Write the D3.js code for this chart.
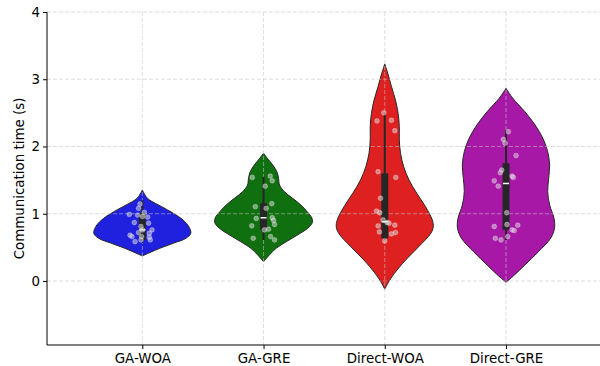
<!DOCTYPE html>
<html>
<head>
<meta charset="utf-8">
<script src="https://cdn.jsdelivr.net/npm/d3@7"></script>
<style>
  html, body { margin: 0; padding: 0; background: #fff; }
  svg { display: block; }
  text { font-family: "DejaVu Sans", sans-serif; }
</style>
</head>
<body>
<svg id="chart" width="600" height="366"></svg>
<script>
// ---------- data ----------
const categories = ["GA-WOA", "GA-GRE", "Direct-WOA", "Direct-GRE"];
const colors = ["#2020df", "#107010", "#df2020", "#a718a7"];
const yTicks = [0, 1, 2, 3, 4];
const yLabel = "Communication time (s)";

// violin profiles: [value, relative density]
const profileGAWOA = [[1.353,0],[1.253,0.08],[1.204,0.15],[1.105,0.40],[1.007,0.64],[0.907,0.84],[0.807,0.96],[0.709,1.0],[0.635,0.90],[0.561,0.64],[0.486,0.36],[0.421,0.15],[0.372,0]];
const profileGAGRE = [[1.899,0],[1.825,0.077],[1.725,0.19],[1.625,0.275],[1.527,0.31],[1.428,0.33],[1.328,0.43],[1.23,0.60],[1.13,0.77],[1.03,0.90],[0.932,1.0],[0.858,1.0],[0.784,0.91],[0.684,0.70],[0.584,0.47],[0.486,0.26],[0.387,0.12],[0.287,0]];
const profileDirectWOA = [[3.227,0],[3.088,0.062],[2.889,0.139],[2.691,0.22],[2.494,0.275],[2.294,0.30],[2.097,0.30],[1.899,0.325],[1.70,0.39],[1.502,0.50],[1.304,0.66],[1.105,0.84],[0.907,0.98],[0.807,1.0],[0.709,0.95],[0.51,0.70],[0.312,0.43],[0.114,0.20],[-0.034,0.062],[-0.123,0]];
const profileDirectGRE = [[2.865,0],[2.717,0.14],[2.517,0.39],[2.32,0.60],[2.122,0.76],[1.923,0.86],[1.725,0.90],[1.527,0.88],[1.328,0.86],[1.13,0.90],[0.932,0.99],[0.784,1.0],[0.635,0.92],[0.436,0.67],[0.238,0.39],[0.089,0.175],[-0.019,0]];
const profiles = [profileGAWOA, profileGAGRE, profileDirectWOA, profileDirectGRE];

// box stats
const whiskerLow  = [0.565, 0.61, 0.61, 0.61];
const q1          = [0.61, 0.76, 0.635, 0.76];
const medians     = [0.76, 0.94, 0.88, 1.45];
const q3          = [1.01, 1.155, 1.60, 1.75];
const whiskerHigh = [1.20, 1.55, 2.49, 2.245];

// strip points: [jitter (category units), value]
const pointsGAWOA = [[-0.019,1.145],[-0.031,1.08],[-0.107,0.99],[-0.039,0.98],[0.017,1.02],[0.002,0.96],[0.044,0.95],[-0.066,0.87],[0.052,0.86],[-0.011,0.81],[0.002,0.76],[0.08,0.76],[-0.031,0.72],[0.058,0.71],[-0.101,0.68],[-0.085,0.66],[-0.006,0.66],[0.058,0.65],[0.066,0.61],[-0.011,0.61],[-0.06,0.585]];
const pointsGAGRE = [[-0.093,1.54],[0.055,1.56],[0.072,1.49],[0.014,1.41],[-0.068,1.105],[0.068,1.15],[0.022,1.08],[-0.06,0.93],[0.072,0.94],[0.083,0.90],[0.091,0.84],[-0.097,0.82],[0.008,0.76],[0.041,0.77],[-0.085,0.635],[0.058,0.66],[0.091,0.61]];
const pointsDirectWOA = [[-0.008,2.50],[-0.064,2.38],[0.055,2.39],[0.083,2.235],[-0.055,1.625],[0.091,1.54],[-0.035,1.23],[-0.068,1.04],[-0.041,1.015],[-0.014,0.91],[0.019,0.87],[0.035,0.86],[-0.055,0.82],[0.083,0.83],[-0.044,0.73],[0.055,0.70],[0.088,0.72],[0,0.595]];
const pointsDirectGRE = [[0.019,2.22],[-0.022,2.105],[-0.008,2.05],[0.083,1.865],[-0.035,1.65],[-0.047,1.61],[0.05,1.56],[0.06,1.54],[-0.097,1.49],[-0.064,1.41],[0.006,1.015],[0.008,0.84],[0.097,0.83],[-0.097,0.81],[0.05,0.76],[0.068,0.75],[-0.088,0.635],[-0.041,0.61],[0.014,0.66]];
const points = [pointsGAWOA, pointsGAGRE, pointsDirectWOA, pointsDirectGRE];

// ---------- layout ----------
const plotLeft = 47, plotRight = 600, plotTop = 12, plotBottom = 345;
const svg = d3.select("#chart");

const x = d3.scalePoint().domain(categories).range([142.3, 506]);
const step = x.step();
const y = d3.scaleLinear().domain([-0.952, 4]).range([plotBottom, plotTop]);
const halfW = 0.4 * step;

// ---------- violins ----------
const gV = svg.append("g");
categories.forEach((c, i) => {
  const cx = x(c);
  const area = d3.area()
    .y(d => y(d[0]))
    .x0(d => cx - halfW * d[1])
    .x1(d => cx + halfW * d[1])
    .curve(d3.curveCatmullRom.alpha(0.5));
  gV.append("path")
    .attr("d", area(profiles[i]))
    .attr("fill", colors[i])
    .attr("stroke", "#262626")
    .attr("stroke-width", 1);
});

// ---------- grid (on top of violins) ----------
const gGrid = svg.append("g")
  .attr("stroke", "#c4c4c4").attr("stroke-opacity", 0.7)
  .attr("stroke-width", 0.8).attr("stroke-dasharray", "4,2");
yTicks.forEach(t => {
  gGrid.append("line").attr("x1", plotLeft).attr("x2", plotRight)
    .attr("y1", y(t)).attr("y2", y(t));
});
categories.forEach(c => {
  gGrid.append("line").attr("x1", x(c)).attr("x2", x(c))
    .attr("y1", plotTop).attr("y2", plotBottom);
});

// ---------- inner box ----------
const gB = svg.append("g");
categories.forEach((c, i) => {
  const cx = x(c);
  gB.append("line").attr("x1", cx).attr("x2", cx)
    .attr("y1", y(whiskerLow[i])).attr("y2", y(whiskerHigh[i]))
    .attr("stroke", "#262626").attr("stroke-width", 2);
  gB.append("line").attr("x1", cx).attr("x2", cx)
    .attr("y1", y(q1[i])).attr("y2", y(q3[i]))
    .attr("stroke", "#262626").attr("stroke-width", 7);
  gB.append("line").attr("x1", cx - 3).attr("x2", cx + 3)
    .attr("y1", y(medians[i])).attr("y2", y(medians[i]))
    .attr("stroke", "#ffffff").attr("stroke-width", 1.5);
});

// ---------- strip points ----------
const gP = svg.append("g");
categories.forEach((c, i) => {
  gP.selectAll(null).data(points[i]).enter().append("circle")
    .attr("cx", d => x(c) + d[0] * step)
    .attr("cy", d => y(d[1]))
    .attr("r", 2.4)
    .attr("fill", "#d8d8d8")
    .attr("fill-opacity", 0.55)
    .attr("stroke", "#ffffff")
    .attr("stroke-opacity", 0.5)
    .attr("stroke-width", 0.6);
});

// ---------- axes ----------
const yAxis = d3.axisLeft(y).tickValues(yTicks).tickFormat(d3.format("d")).tickSize(4).tickPadding(3);
const gy = svg.append("g").attr("transform", `translate(${plotLeft},0)`).call(yAxis);
gy.select(".domain").remove();
gy.append("line").attr("x1", 0).attr("x2", 0).attr("y1", plotTop).attr("y2", plotBottom)
  .attr("stroke", "#000").attr("stroke-width", 1);
gy.selectAll(".tick line").attr("stroke", "#000");
gy.selectAll(".tick text").attr("font-size", 13.4).attr("fill", "#000")
  .attr("font-family", "DejaVu Sans");

const xAxis = d3.axisBottom(x).tickSize(4).tickPadding(4);
const gx = svg.append("g").attr("transform", `translate(0,${plotBottom})`).call(xAxis);
gx.select(".domain").remove();
gx.append("line").attr("x1", plotLeft).attr("x2", plotRight).attr("y1", 0).attr("y2", 0)
  .attr("stroke", "#000").attr("stroke-width", 1);
gx.selectAll(".tick line").attr("stroke", "#000");
gx.selectAll(".tick text").attr("font-size", 13.4).attr("fill", "#000")
  .attr("font-family", "DejaVu Sans");

svg.append("text")
  .attr("transform", `translate(20,${(plotTop + plotBottom) / 2}) rotate(-90)`)
  .attr("text-anchor", "middle")
  .attr("dominant-baseline", "middle")
  .attr("font-size", 13.4)
  .attr("fill", "#000")
  .text(yLabel);
</script>
</body>
</html>
